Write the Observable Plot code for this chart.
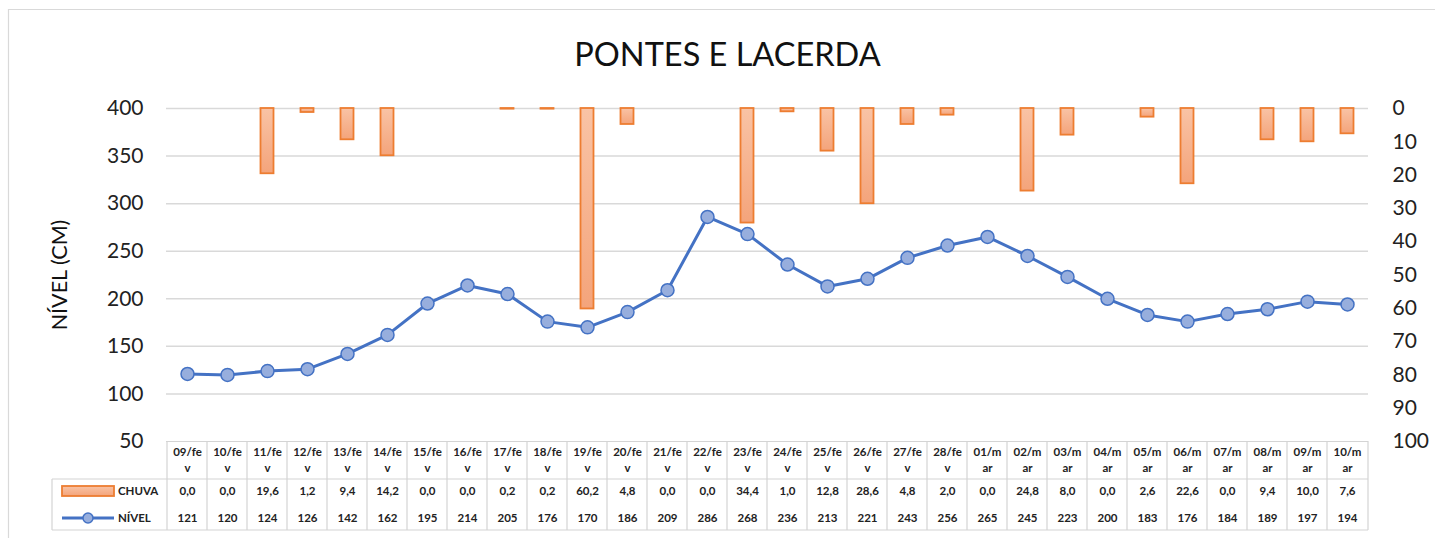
<!DOCTYPE html>
<html>
<head>
<meta charset="utf-8">
<script src="https://cdn.jsdelivr.net/npm/d3@7"></script>
<script src="https://cdn.jsdelivr.net/npm/@observablehq/plot@0.6"></script>
<style>
  html, body { margin: 0; padding: 0; background: #fff; }
  svg { display: block; }
</style>
</head>
<body>
<div id="chart"></div>
<script>
// ---- data ----
const titleText = "PONTES E LACERDA";
const yLabel = "NÍVEL (CM)";
const dates = ["09/fev","10/fev","11/fev","12/fev","13/fev","14/fev","15/fev","16/fev","17/fev","18/fev",
  "19/fev","20/fev","21/fev","22/fev","23/fev","24/fev","25/fev","26/fev","27/fev","28/fev",
  "01/mar","02/mar","03/mar","04/mar","05/mar","06/mar","07/mar","08/mar","09/mar","10/mar"];
const chuva = [0.0,0.0,19.6,1.2,9.4,14.2,0.0,0.0,0.2,0.2,60.2,4.8,0.0,0.0,34.4,1.0,12.8,28.6,4.8,2.0,
  0.0,24.8,8.0,0.0,2.6,22.6,0.0,9.4,10.0,7.6];
const nivel = [121,120,124,126,142,162,195,214,205,176,170,186,209,286,268,236,213,221,243,256,
  265,245,223,200,183,176,184,189,197,194];
const leftTicks = [50,100,150,200,250,300,350,400];
const gridTicks = [100,150,200,250,300,350,400];
const rightTicks = [0,10,20,30,40,50,60,70,80,90,100];
const seriesNames = ["CHUVA", "NÍVEL"];

// secondary axis (rain, inverted, 0 at top=400, 100 at bottom=50)
const yTop = 400, yBottom = 50, rainMax = 100;
const rainToY = r => yTop - r * (yTop - yBottom) / rainMax;

const data = dates.map((d, i) => ({date: d, chuva: chuva[i], nivel: nivel[i]}));
const fmt1 = v => v.toFixed(1).replace(".", ",");
const wrapLabel = d => d.endsWith("fev") ? d.slice(0, 5) + "\n" + d.slice(5) : d.slice(0, 4) + "\n" + d.slice(4);

const W = 1435, H = 538;
const mL = 166, mR = 67, mT = 108, mB = 97;
const orange = "#ed7d31", blue = "#4472c4", grid = "#d9d9d9", font = "Lato, 'Open Sans', sans-serif";

function decor(index, scales, values, dims) {
  const g = d3.create("svg:g");
  const defs = g.append("defs");
  const lg = defs.append("linearGradient").attr("id", "chuvaGrad").attr("x1", 0).attr("y1", 0).attr("x2", 0).attr("y2", 1);
  lg.append("stop").attr("offset", "0%").attr("stop-color", "#f9c3a5");
  lg.append("stop").attr("offset", "100%").attr("stop-color", "#f4a47b");
  // outer border
  g.append("path").attr("d", `M8.5,${H}V9.5H${W}`).attr("fill", "none").attr("stroke", "#d9d9d9").attr("stroke-width", 1.2);
  // table
  const left = dims.marginLeft, right = dims.width - dims.marginRight;
  const top = dims.height - dims.marginBottom;
  const sep = top + 38, bot = top + 89, tabL = 52;
  const ln = (x1, y1, x2, y2) => g.append("line").attr("x1", x1).attr("y1", y1).attr("x2", x2).attr("y2", y2)
      .attr("stroke", "#d4d4d4").attr("stroke-width", 1.2);
  ln(left, top + 0.5, right, top + 0.5);
  ln(tabL, sep, right, sep);
  ln(tabL, bot, right, bot);
  ln(tabL, sep, tabL, bot);
  dates.forEach((d, i) => {
    const x = scales.x(d);
    ln(x, top, x, bot);
  });
  ln(right, top, right, bot);
  // legend keys
  const r1 = top + 50, r2 = top + 77;
  g.append("rect").attr("x", 62).attr("y", r1 - 5).attr("width", 52).attr("height", 10)
    .attr("fill", "url(#chuvaGrad)").attr("stroke", orange).attr("stroke-width", 1.8);
  g.append("line").attr("x1", 62).attr("x2", 114).attr("y1", r2).attr("y2", r2).attr("stroke", blue).attr("stroke-width", 3);
  g.append("circle").attr("cx", 88).attr("cy", r2).attr("r", 5).attr("fill", "#97aedd").attr("stroke", blue).attr("stroke-width", 1.5);
  [[seriesNames[0], r1], [seriesNames[1], r2]].forEach(([t, y]) => {
    g.append("text").attr("x", 118).attr("y", y).attr("dy", "0.35em").attr("font-weight", "bold")
      .attr("text-anchor", "start").attr("font-size", 11.5).attr("fill", "#222").text(t);
  });
  return g.node();
}

const cell = {frameAnchor: "bottom", lineAnchor: "middle", textAnchor: "middle", fontSize: 11.5, fontWeight: "bold", fill: "#222"};

const chart = Plot.plot({
  width: W, height: H,
  marginLeft: mL, marginRight: mR, marginTop: mT, marginBottom: mB,
  style: {fontFamily: font, background: "#fff", color: "#222"},
  x: {type: "band", domain: dates, padding: 0, axis: null},
  y: {domain: [yBottom, yTop], axis: null},
  marks: [
    Plot.gridY(gridTicks, {stroke: grid, strokeOpacity: 1, strokeWidth: 1.5}),
    Plot.axisY(leftTicks, {tickSize: 0, tickPadding: 23, fontSize: 21, label: null, fill: "#222"}),
    Plot.axisY(rightTicks.map(rainToY), {anchor: "right", tickSize: 0, tickPadding: 24, fontSize: 21, label: null,
      tickFormat: v => String(Math.round((yTop - v) * rainMax / (yTop - yBottom))), fill: "#222"}),
    Plot.barY(data, {x: "date", y1: () => yTop, y2: d => rainToY(d.chuva), insetLeft: 13.5, insetRight: 13.5,
      fill: "url(#chuvaGrad)", stroke: orange, strokeWidth: 1.8}),
    Plot.line(data, {x: "date", y: "nivel", stroke: blue, strokeWidth: 3}),
    Plot.dot(data, {x: "date", y: "nivel", r: 6.5, fill: "#97aedd", stroke: blue, strokeWidth: 1.5}),
    decor,
    Plot.text(data, {...cell, x: "date", text: d => wrapLabel(d.date), dy: 17, lineHeight: 1.4}),
    Plot.text(data, {...cell, x: "date", text: d => fmt1(d.chuva), dy: 50}),
    Plot.text(data, {...cell, x: "date", text: d => String(d.nivel), dy: 77}),
    Plot.text([titleText], {frameAnchor: "top", lineAnchor: "middle", textAnchor: "middle", dy: -53, dx: -40, fontSize: 32.5, fill: "#111"}),
    Plot.text([yLabel], {frameAnchor: "left", lineAnchor: "middle", textAnchor: "middle", dx: -106, rotate: -90, fontSize: 21.5, fill: "#111"})
  ]
});
document.getElementById("chart").appendChild(chart);
</script>
</body>
</html>
